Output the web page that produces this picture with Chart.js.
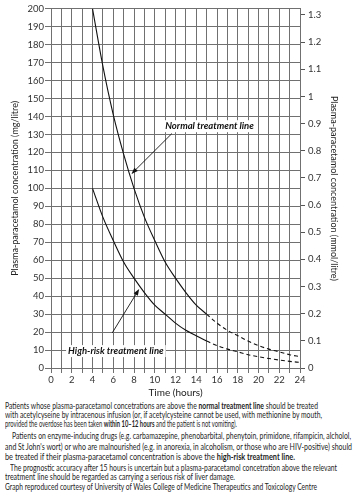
<!DOCTYPE html>
<html>
<head>
<meta charset="utf-8">
<script src="https://cdn.jsdelivr.net/npm/chart.js@4/dist/chart.umd.min.js"></script>
<style>
  body { margin: 0; background: #fff; width: 358px; height: 500px; overflow: hidden; font-family: Lato, "Open Sans", sans-serif; }
  #wrap { position: absolute; left: 0; top: 0; width: 358px; height: 400px; }
  .ln { position: absolute; white-space: nowrap; font-size: 8.8px; line-height: 10px; color: #1e1e1e; transform-origin: 0 50%; }
  .ln b { font-weight: 700; }
</style>
</head>
<body>
<div id="wrap"><canvas id="c"></canvas></div>
<div id="notes">
  <div class="ln" data-x="5" data-y="406" data-w="313">Patients whose plasma-paracetamol concetrations are above the <b>normal treatment line</b> should be treated</div>
  <div class="ln" data-x="5" data-y="415" data-w="317">with acetylcyseine by intracenous infusion (or, if acetylcysteine cannot be used, with methionine by mouth,</div>
  <div class="ln" data-x="5" data-y="424" data-w="232">provided the overdose has been taken <b>within 10–12 hours</b> and the patient is not vomiting).</div>
  <div class="ln" data-x="12" data-y="436" data-w="339">Patients on enzyme-inducing drugs (e.g. carbamazepine, phenobarbital, phenytoin, primidone, rifampicin, alcholol,</div>
  <div class="ln" data-x="5" data-y="447" data-w="347">and St John's wort) or who are malnourished (e.g. in anorexia, in alcoholism, or those who are HIV-positive) should</div>
  <div class="ln" data-x="5" data-y="457" data-w="290">be treated if their plasma-paracetamol concentration is above the <b>high-risk treatment line.</b></div>
  <div class="ln" data-x="10" data-y="468" data-w="327">The prognostic accuracy after 15 hours is uncertain but a plasma-paracetamol concetration above the relevant</div>
  <div class="ln" data-x="5" data-y="477" data-w="230">treatment line should be regarded as carrying a serious risk of liver damage.</div>
  <div class="ln" data-x="5" data-y="487" data-w="312">Graph reproduced courtesy of University of Wales College of Medicine Therapeutics and Toxicology Centre</div>
</div>
<script>
// hours after ingestion
const hours = [4, 5, 6, 7, 8, 9, 10, 11, 12, 13, 14, 15, 16, 17, 18, 19, 20, 21, 22, 23, 24];
// mg/litre
const normalLine = [200, 168, 141, 119, 100, 84, 71, 59, 50, 42, 35, 30, 25, 21, 18, 15, 12.5, 10.5, 9, 7.4, 6.3];
const highRiskLine = [100, 84, 71, 59, 50, 42, 35, 30, 25, 21, 18, 15, 12.5, 10.5, 9, 7.4, 6.3, 5.3, 4.4, 3.7, 3.1];
const dashFrom = 15; // uncertain beyond 15 hours
const mgPerMmol = 151.16;

const grey = '#707070';
const tickFont = { family: 'Lato', size: 9.5 };
const titleFont = { family: 'Lato', size: 10 };
const sideTitleFont = { family: 'Lato', size: 9 };

document.querySelectorAll('.ln').forEach(el => {
  el.style.left = el.dataset.x + 'px';
  el.style.top = (el.dataset.y - 5) + 'px';
  const w = el.getBoundingClientRect().width;
  el.style.transform = 'scaleX(' + (el.dataset.w / w) + ')';
});

const toPts = vals => hours.map((h, i) => ({ x: h, y: vals[i] }));
const lineStyle = {
  borderColor: '#111',
  borderWidth: 1.1,
  pointRadius: 0,
  cubicInterpolationMode: 'monotone',
  segment: { borderDash: ctx => ctx.p0.parsed.x >= dashFrom ? [4, 3] : undefined }
};

const labels = {
  id: 'labels',
  afterDatasetsDraw(chart) {
    const { ctx, scales: { x, y } } = chart;
    const notes = [
      { text: 'Normal treatment line', at: [11.0, 134.6], from: [11.65, 130.5], to: [7.75, 108] },
      { text: 'High-risk treatment line', at: [1.65, 9.4], from: [5.9, 19.5], to: [8.5, 44] }
    ];
    ctx.save();
    ctx.font = 'italic bold 9.5px Lato';
    ctx.textBaseline = 'middle';
    notes.forEach(n => {
      const tx = x.getPixelForValue(n.at[0]), ty = y.getPixelForValue(n.at[1]);
      const w = ctx.measureText(n.text).width;
      ctx.fillStyle = '#fff';
      ctx.fillRect(tx - 2, ty - 6, w + 4, 12);
      ctx.fillStyle = '#111';
      ctx.fillText(n.text, tx, ty);
      const x0 = x.getPixelForValue(n.from[0]), y0 = y.getPixelForValue(n.from[1]);
      const x1 = x.getPixelForValue(n.to[0]), y1 = y.getPixelForValue(n.to[1]);
      const a = Math.atan2(y1 - y0, x1 - x0);
      ctx.strokeStyle = '#111';
      ctx.lineWidth = 0.9;
      ctx.beginPath();
      ctx.moveTo(x0, y0);
      ctx.lineTo(x1 - 5 * Math.cos(a), y1 - 5 * Math.sin(a));
      ctx.stroke();
      ctx.beginPath();
      ctx.moveTo(x1, y1);
      ctx.lineTo(x1 - 7 * Math.cos(a - 0.35), y1 - 7 * Math.sin(a - 0.35));
      ctx.lineTo(x1 - 7 * Math.cos(a + 0.35), y1 - 7 * Math.sin(a + 0.35));
      ctx.closePath();
      ctx.fill();
    });
    ctx.restore();
  }
};

new Chart(document.getElementById('c'), {
  type: 'line',
  data: {
    datasets: [
      { label: 'Normal treatment line', data: toPts(normalLine), ...lineStyle },
      { label: 'High-risk treatment line', data: toPts(highRiskLine), ...lineStyle }
    ]
  },
  options: {
    responsive: true,
    maintainAspectRatio: false,
    animation: false,
    layout: { padding: { top: 7, left: 0, right: 0, bottom: 0 } },
    plugins: { legend: { display: false }, tooltip: { enabled: false } },
    scales: {
      x: {
        type: 'linear', min: 0, max: 24,
        afterFit: s => { s.height = 32; },
        grid: { color: grey, lineWidth: 1, tickLength: 5 },
        border: { color: grey },
        ticks: {
          stepSize: 1, autoSkip: false, maxRotation: 0, padding: 1,
          color: '#333', font: tickFont,
          callback: v => v % 2 === 0 ? v : ''
        },
        title: { display: true, text: 'Time (hours)', color: '#222', font: titleFont, padding: { top: 0, bottom: 1 } }
      },
      y: {
        min: 0, max: 200,
        afterFit: s => { s.width = 51; },
        grid: { color: grey, lineWidth: 1, tickLength: 6 },
        border: { color: grey },
        ticks: { stepSize: 10, padding: 1, color: '#333', font: tickFont },
        title: { display: true, text: 'Plasma-paracetamol concentration (mg/litre)', color: '#222', font: sideTitleFont, padding: { top: 10, bottom: 0 } }
      },
      y2: {
        position: 'right',
        min: 0, max: 200 / mgPerMmol,
        afterFit: s => { s.width = 58; },
        grid: { drawOnChartArea: false, color: '#555', tickLength: 5 },
        border: { color: grey },
        ticks: {
          stepSize: 0.1, includeBounds: false, padding: 3, color: '#333', font: tickFont,
          callback: v => String(Math.round(v * 10) / 10)
        },
        title: { display: true, text: 'Plasma-paracetamol concentration (mmol/litre)', color: '#222', font: sideTitleFont, padding: { top: 19, bottom: 0 } }
      }
    }
  },
  plugins: [labels]
});
</script>
</body>
</html>
